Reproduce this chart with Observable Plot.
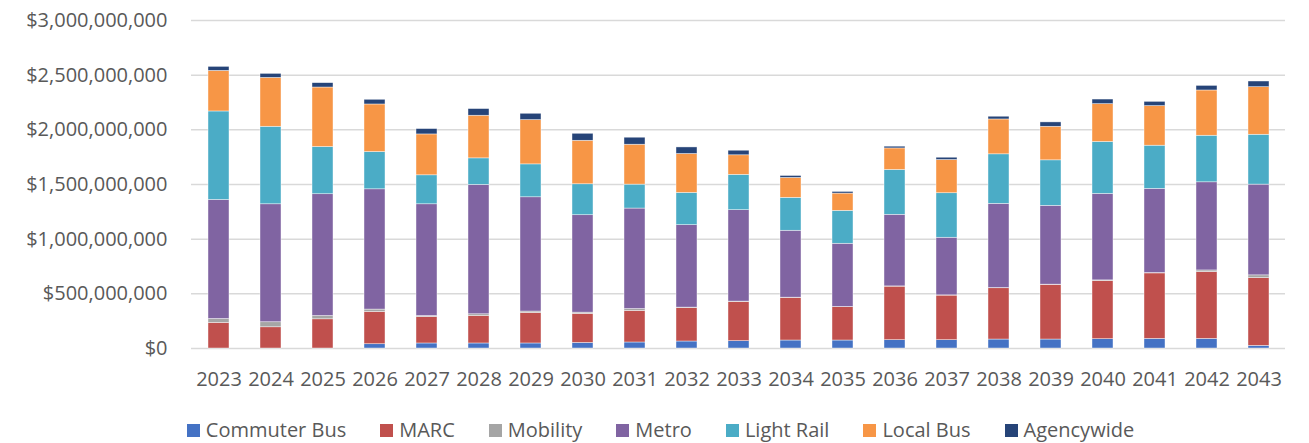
<!DOCTYPE html>
<html>
<head>
<meta charset="utf-8">
<script src="https://cdn.jsdelivr.net/npm/d3@7"></script>
<script src="https://cdn.jsdelivr.net/npm/@observablehq/plot@0.6"></script>
<style>
  html, body { margin: 0; padding: 0; background: #ffffff; overflow: hidden; }
  #chart { width: 1309px; height: 405px; }
  #legend {
    width: 1309px; height: 38px; box-sizing: border-box;
    padding-top: 14px; padding-left: 12px;
    display: flex; justify-content: center; align-items: flex-start;
    font-family: "Open Sans", sans-serif; font-size: 20px; line-height: 22px; color: #595959;
  }
  .item { display: flex; align-items: center; margin: 0 17px; white-space: nowrap; }
  .sw { width: 13px; height: 13px; margin-right: 6px; display: inline-block; }
</style>
</head>
<body>
<div id="chart"></div>
<div id="legend"></div>
<script>
// Years (categories)
const years = [2023, 2024, 2025, 2026, 2027, 2028, 2029, 2030, 2031, 2032, 2033,
               2034, 2035, 2036, 2037, 2038, 2039, 2040, 2041, 2042, 2043];

// Series values, in millions of dollars
const commuterBus = [0, 0, 0, 39, 46, 46, 46, 51, 55, 64, 67, 73, 73, 76, 76, 82, 82, 85, 88, 88, 24];
const marc        = [234, 194, 267, 295, 242, 251, 279, 265, 288, 306, 358, 390, 305, 490, 408, 469, 500, 532, 599, 611, 620];
const mobility    = [36, 46, 30, 22, 9, 16, 13, 12, 18, 4, 4, 2, 2, 2, 2, 2, 2, 6, 3, 15, 25];
const metro       = [1089, 1079, 1114, 1100, 1022, 1183, 1045, 891, 919, 754, 836, 612, 578, 655, 527, 770, 721, 791, 770, 806, 830];
const lightRail   = [809, 709, 432, 341, 265, 243, 301, 283, 219, 295, 323, 301, 301, 410, 407, 453, 416, 475, 395, 426, 456];
const localBus    = [371, 447, 544, 435, 374, 390, 405, 398, 365, 356, 179, 182, 158, 197, 304, 319, 307, 346, 362, 414, 435];
const agencywide  = [37, 37, 40, 43, 49, 61, 58, 64, 64, 60, 42, 18, 15, 16, 21, 25, 40, 42, 39, 42, 52];

// Series names and colours
const modes  = ["Commuter Bus", "MARC", "Mobility", "Metro", "Light Rail", "Local Bus", "Agencywide"];
const colors = ["#4472C4", "#C0504D", "#A5A5A5", "#8064A2", "#4BACC6", "#F79646", "#264478"];

// Y tick values
const yTicks = [0, 500e6, 1000e6, 1500e6, 2000e6, 2500e6, 3000e6];

const seriesValues = [commuterBus, marc, mobility, metro, lightRail, localBus, agencywide];
const data = [];
modes.forEach((m, i) => {
  years.forEach((y, j) => {
    data.push({year: String(y), mode: m, value: seriesValues[i][j] * 1e6});
  });
});

const fmt = d3.format(",");
const chart = Plot.plot({
  width: 1309,
  height: 405,
  marginLeft: 191,
  marginRight: 24,
  marginTop: 20,
  marginBottom: 57,
  style: {fontFamily: "'Open Sans', sans-serif", fontSize: "20px", color: "#595959", background: "#ffffff"},
  x: {domain: years.map(String), paddingInner: 0.6, paddingOuter: 0.3, label: null},
  y: {domain: [0, 3000e6], label: null},
  color: {domain: modes, range: colors},
  marks: [
    Plot.gridY(yTicks, {stroke: "#D9D9D9", strokeOpacity: 1, strokeWidth: 1.5}),
    Plot.barY(data, {x: "year", y: "value", fill: "mode", stroke: "#ffffff", strokeWidth: 0.6, strokeOpacity: 0.7}),
    Plot.axisX({tickSize: 0, tickPadding: 23, fontSize: 20, label: null, fill: "#595959"}),
    Plot.axisY(yTicks, {tickSize: 0, tickPadding: 24, fontSize: 20, label: null, fill: "#595959",
      tickFormat: d => "$" + fmt(d)})
  ]
});
document.getElementById("chart").appendChild(chart);

const legend = document.getElementById("legend");
modes.forEach((m, i) => {
  const item = document.createElement("div");
  item.className = "item";
  const sw = document.createElement("span");
  sw.className = "sw";
  sw.style.background = colors[i];
  const t = document.createElement("span");
  t.textContent = m;
  item.appendChild(sw);
  item.appendChild(t);
  legend.appendChild(item);
});
</script>
</body>
</html>
